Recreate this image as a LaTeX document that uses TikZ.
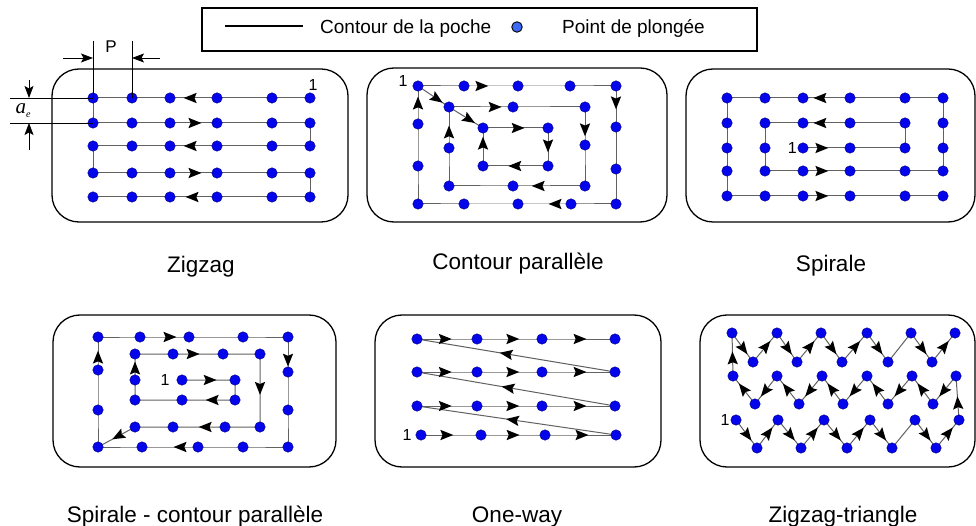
\documentclass[tikz,border=0pt]{standalone}
\usepackage{fontspec}
\setmainfont{Liberation Sans}
\newfontfamily\serifit{Liberation Serif}
\usetikzlibrary{arrows.meta,calc}
\definecolor{dotblue}{RGB}{5,5,235}
\definecolor{dotrim}{RGB}{0,0,130}
\definecolor{legblue}{RGB}{60,105,245}
\tikzset{
  dot/.style={circle,fill=dotblue,draw=dotrim,line width=0.4pt,minimum size=10.5pt,inner sep=0pt},
  legdot/.style={circle,fill=legblue,draw=black,line width=0.9pt,minimum size=10.5pt,inner sep=0pt},
  pocket/.style={draw=black,line width=1.3pt,rounded corners=27pt},
  toolpath/.style={draw=black!62,line width=1pt},
  dimline/.style={draw=black,line width=0.8pt},
  dimarrow/.style={dimline,-{Stealth[length=12pt,width=9pt,inset=2.5pt]}},
  caption/.style={font=\fontsize{22.5}{24}\selectfont,anchor=base,inner sep=0pt},
  legtext/.style={font=\fontsize{19}{21}\selectfont,anchor=base west,inner sep=0pt},
  startlabel/.style={font=\fontsize{16}{18}\selectfont,inner sep=0pt},
  pics/arrowhead/.style={code={\fill[black] (6.5pt,0) -- (-6.5pt,5.2pt) -- (-4.3pt,0) -- (-6.5pt,-5.2pt) -- cycle;}},
}
\newcommand{\tipon}[3]{\path (#1) -- (#2) pic[pos=#3,sloped,allow upside down]{arrowhead};}
\begin{document}
\begin{tikzpicture}[x=1pt,y=-1pt]
\useasboundingbox (0,0) rectangle (976,526);
% ---------------- legend
\draw[line width=1.2pt] (202,8) rectangle (757,51);
\coordinate (legA) at (225,26); \coordinate (legB) at (303,26);
\draw[line width=1.1pt] (legA) -- (legB);
\node[legtext] (legT1) at (320,34) {Contour de la poche};
\node[legdot] (legD) at (517,27) {};
\node[legtext] (legT2) at (562,34) {Point de plongée};
% ---------------- pocket outlines
\draw[pocket] (52,69) rectangle (348,222);
\draw[pocket] (367,68) rectangle (667,222);
\draw[pocket] (686,69) rectangle (975,222);
\draw[pocket] (53,315) rectangle (336,467);
\draw[pocket] (375,315) rectangle (661,467);
\draw[pocket] (700,315) rectangle (975,467);
% ---------------- captions
\node[caption] (capA) at (201,273) {Zigzag};
\node[caption] (capB) at (518,270) {Contour parallèle};
\node[caption] (capC) at (831,272) {Spirale};
\node[caption] (capD) at (195,522) {Spirale - contour parallèle};
\node[caption] (capE) at (517,522) {One-way};
\node[caption] (capF) at (843,522) {Zigzag-triangle};
% ================= Panel A : Zigzag
\foreach \r/\y in {1/98,2/123,3/146,4/173,5/197}{
  \foreach \c/\x in {1/93,2/132,3/170,4/217,5/272,6/310}{
    \coordinate (A\r\c) at (\x,\y);}}
\draw[toolpath] (A16) -- (A11) -- (A21) -- (A26) -- (A36) -- (A31) -- (A41) -- (A46) -- (A56) -- (A51);
\tipon{A14}{A13}{0.57} \tipon{A23}{A24}{0.53} \tipon{A34}{A33}{0.57}
\tipon{A43}{A44}{0.53} \tipon{A54}{A53}{0.53}
\foreach \r in {1,...,5}{\foreach \c in {1,...,6}{\node[dot] (dA\r\c) at (A\r\c) {};}}
\node[startlabel] (oneA) at (313,85) {1};
% dimensions
\coordinate (Pt1) at (93,41); \coordinate (Pt2) at (132,41);
\coordinate (Pa) at (93,58); \coordinate (Pb) at (132,58);
\coordinate (Pl) at (63,58); \coordinate (Pr) at (160,58);
\draw[dimline] (Pt1) -- (A11);
\draw[dimline] (Pt2) -- (A12);
\draw[dimarrow] (Pl) -- (Pa);
\draw[dimarrow] (Pr) -- (Pb);
\node[font=\fontsize{17}{18}\selectfont] (Plabel) at (111,47) {P};
\coordinate (E1) at (10,98); \coordinate (E2) at (10,123);
\coordinate (Ea) at (29,98); \coordinate (Eb) at (29,123);
\coordinate (Et) at (29,80); \coordinate (Eu) at (29,150);
\draw[dimline] (E1) -- (A11);
\draw[dimline] (E2) -- (A21);
\draw[dimarrow] (Et) -- (Ea);
\draw[dimarrow] (Eu) -- (Eb);
\node[inner sep=0pt] (aelabel) at (23,111) {{\serifit\itshape\fontsize{21}{21}\selectfont a}\raisebox{-4pt}{\serifit\itshape\fontsize{10}{10}\selectfont e}};
% ================= Panel B : Contour parallele
\foreach \n/\x/\y in {O1/418/86,O2/464/86,O3/518/86,O4/570/86,O5/616/86,O6/616/127,O7/616/169,O8/616/204,
  O9/571/204,O10/518/204,O11/464/204,O12/418/204,O13/418/166,O14/418/124,
  M1/449/107,M2/513/107,M3/585/107,M4/585/145,M5/585/186,M6/513/186,M7/449/186,M8/449/148,
  I1/483/128,I2/548/128,I3/548/166,I4/483/166}{\coordinate (B\n) at (\x,\y);}
\draw[toolpath] (BO1) -- (BO2) -- (BO3) -- (BO4) -- (BO5) -- (BO6) -- (BO7) -- (BO8) -- (BO9) -- (BO10) -- (BO11) -- (BO12) -- (BO13) -- (BO14) -- cycle;
\draw[toolpath] (BO1) -- (BM1) -- (BI1);
\draw[toolpath] (BM1) -- (BM2) -- (BM3) -- (BM4) -- (BM5) -- (BM6) -- (BM7) -- (BM8) -- cycle;
\draw[toolpath] (BI1) -- (BI2) -- (BI3) -- (BI4) -- cycle;
\tipon{BO2}{BO3}{0.33} \tipon{BO5}{BO6}{0.41} \tipon{BO9}{BO10}{0.30} \tipon{BO14}{BO1}{0.55}
\tipon{BO1}{BM1}{0.62}
\tipon{BM1}{BM2}{0.72} \tipon{BM3}{BM4}{0.6} \tipon{BM5}{BM6}{0.65} \tipon{BM8}{BM1}{0.39}
\tipon{BM1}{BI1}{0.6}
\tipon{BI1}{BI2}{0.54} \tipon{BI2}{BI3}{0.47} \tipon{BI3}{BI4}{0.51} \tipon{BI4}{BI1}{0.6}
\foreach \n in {O1,O2,O3,O4,O5,O6,O7,O8,O9,O10,O11,O12,O13,O14,M1,M2,M3,M4,M5,M6,M7,M8,I1,I2,I3,I4}{\node[dot] (dB\n) at (B\n) {};}
\node[startlabel] (oneB) at (403,81) {1};
% ================= Panel C : Spirale
\foreach \r/\y in {1/98,2/123,3/148,4/171,5/196}{
  \foreach \c/\x in {1/727,2/765,3/803,4/850,5/905,6/943}{
    \coordinate (C\r\c) at (\x,\y);}}
\draw[toolpath] (C33) -- (C35) -- (C25) -- (C22) -- (C42) -- (C46) -- (C16) -- (C11) -- (C51) -- (C56);
\tipon{C33}{C34}{0.4} \tipon{C24}{C23}{0.64} \tipon{C43}{C44}{0.4} \tipon{C14}{C13}{0.64} \tipon{C53}{C54}{0.4}
\foreach \r in {1,...,5}{\foreach \c in {1,...,6}{\node[dot] (dC\r\c) at (C\r\c) {};}}
\node[startlabel,anchor=east] (oneC) at (797,148) {1};
% ================= Panel D : Spirale - contour parallele
\foreach \n/\x/\y in {O1/98/337,O2/140/337,O3/189/337,O4/243/337,O5/288/337,O6/288/372,O7/288/410,O8/288/447,
  O9/243/447,O10/198/447,O11/142/447,O12/98/447,O13/98/410,O14/98/370,
  M1/135/354,M2/173/354,M3/223/354,M4/260/354,M5/260/427,M6/225/427,M7/173/427,M8/135/427,
  I1/182/380,I2/235/380,I3/235/400,I4/182/400,I5/135/400,I6/135/380}{\coordinate (D\n) at (\x,\y);}
\draw[toolpath] (DO1) -- (DO2) -- (DO3) -- (DO4) -- (DO5) -- (DO6) -- (DO7) -- (DO8) -- (DO9) -- (DO10) -- (DO11) -- (DO12) -- (DO13) -- (DO14) -- cycle;
\draw[toolpath] (DI1) -- (DI2) -- (DI3) -- (DI4) -- (DI5) -- (DI6) -- (DM1) -- (DM2) -- (DM3) -- (DM4) -- (DM5) -- (DM6) -- (DM7) -- (DM8) -- (DO12);
\tipon{DI1}{DI2}{0.53} \tipon{DI3}{DI4}{0.43} \tipon{DI6}{DM1}{0.46}
\tipon{DM2}{DM3}{0.4} \tipon{DM4}{DM5}{0.47} \tipon{DM6}{DM7}{0.38} \tipon{DM8}{DO12}{0.46}
\tipon{DO10}{DO11}{0.32} \tipon{DO5}{DO6}{0.66} \tipon{DO2}{DO3}{0.61} \tipon{DO14}{DO1}{0.39}
\foreach \n in {O1,O2,O3,O4,O5,O6,O7,O8,O9,O10,O11,O12,O13,O14,M1,M2,M3,M4,M5,M6,M7,M8,I1,I2,I3,I4,I5,I6}{\node[dot] (dD\n) at (D\n) {};}
\node[startlabel] (oneD) at (165,380) {1};
% ================= Panel E : One-way
\foreach \r/\y in {1/339,2/372,3/406}{
  \foreach \c/\x in {1/417,2/477,3/542,4/615}{\coordinate (G\r\c) at (\x,\y);}}
\foreach \c/\x in {1/421,2/481,3/545,4/616}{\coordinate (G4\c) at (\x,435);}
\foreach \r in {1,...,4}{\draw[toolpath] (G\r1) -- (G\r2) -- (G\r3) -- (G\r4);}
\draw[toolpath] (G24) -- (G11);
\draw[toolpath] (G34) -- (G21);
\draw[toolpath] (G44) -- (G31);
\foreach \r in {1,2,3}{\tipon{G\r1}{G\r2}{0.47} \tipon{G\r2}{G\r3}{0.55} \tipon{G\r3}{G\r4}{0.52}}
\tipon{G41}{G42}{0.43} \tipon{G42}{G43}{0.5} \tipon{G43}{G44}{0.52}
\tipon{G24}{G11}{0.55} \tipon{G34}{G21}{0.54} \tipon{G44}{G31}{0.52}
\foreach \r in {1,...,4}{\foreach \c in {1,...,4}{\node[dot] (dG\r\c) at (G\r\c) {};}}
\node[startlabel] (oneE) at (407,435) {1};
% ================= Panel F : Zigzag-triangle
\foreach \k/\x/\y in {1/732/333,2/753/362,3/777/333,4/797/362,5/821/333,6/842/362,7/867/333,8/888/362,9/911/333,10/932/362,11/955/333}{\coordinate (Ha\k) at (\x,\y);}
\foreach \k/\x/\y in {1/733/376,2/755/404,3/777/376,4/799/404,5/822/376,6/843/404,7/867/376,8/888/404,9/912/376,10/933/404,11/956/376}{\coordinate (Hb\k) at (\x,\y);}
\foreach \k/\x/\y in {1/736/420,2/757/448,3/778/420,4/801/448,5/824/420,6/847/448,7/870/420,8/892/448,9/915/420,10/936/448,11/959/420}{\coordinate (Hc\k) at (\x,\y);}
\draw[toolpath] (Hc1) -- (Hc2) -- (Hc3) -- (Hc4) -- (Hc5) -- (Hc6) -- (Hc7) -- (Hc8) -- (Hc9) -- (Hc10) -- (Hc11)
  -- (Hb11) -- (Hb10) -- (Hb9) -- (Hb8) -- (Hb7) -- (Hb6) -- (Hb5) -- (Hb4) -- (Hb3) -- (Hb2) -- (Hb1)
  -- (Ha1) -- (Ha2) -- (Ha3) -- (Ha4) -- (Ha5) -- (Ha6) -- (Ha7) -- (Ha8) -- (Ha9) -- (Ha10) -- (Ha11);
\foreach \a/\b in {1/2,2/3,3/4,4/5,5/6,6/7,7/8,9/10,10/11}{\tipon{Ha\a}{Ha\b}{0.55} \tipon{Hc\a}{Hc\b}{0.55}}
\foreach \a/\b in {2/1,3/2,4/3,5/4,6/5,7/6,8/7,9/8,10/9,11/10}{\tipon{Hb\a}{Hb\b}{0.55}}
\tipon{Hb1}{Ha1}{0.42} \tipon{Hc11}{Hb11}{0.39}
\foreach \r in {a,b,c}{\foreach \k in {1,...,11}{\node[dot] (dH\r\k) at (H\r\k) {};}}
\node[startlabel] (oneF) at (725,420) {1};
\end{tikzpicture}
\end{document}
